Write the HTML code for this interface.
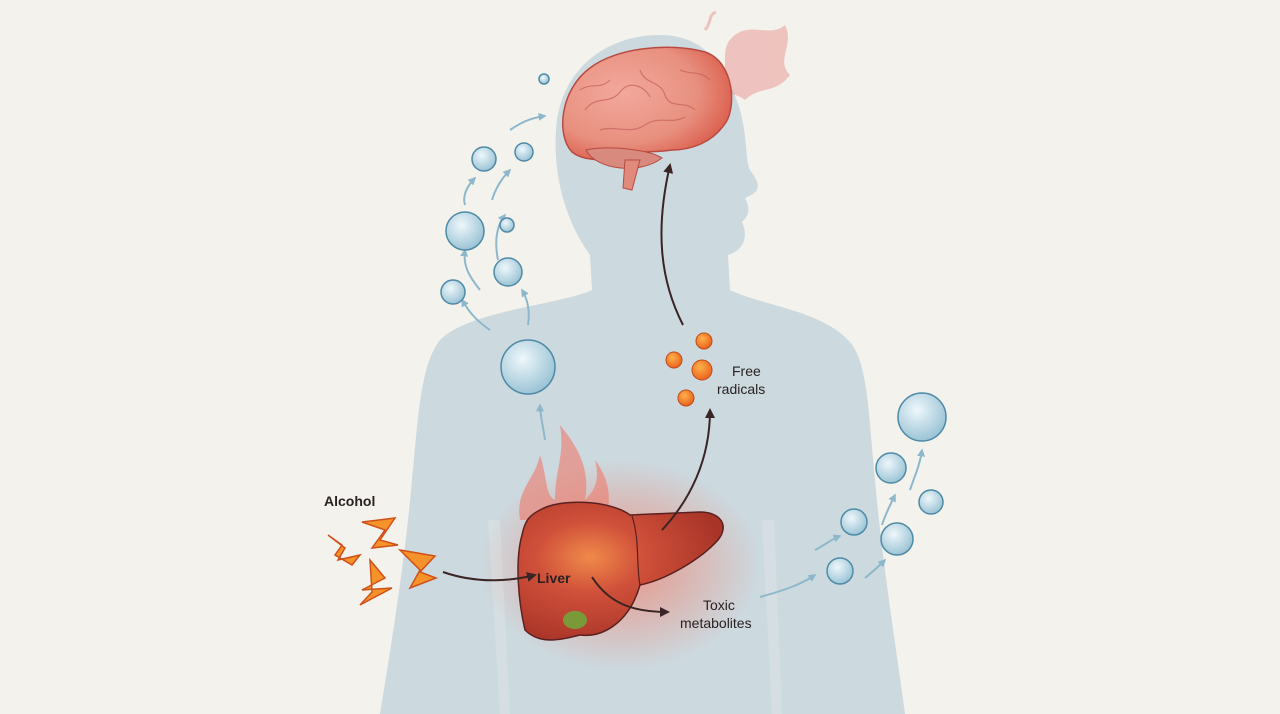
<!DOCTYPE html>
<html><head><style>
html,body{margin:0;padding:0;background:#f3f2ec;}
svg{display:block}
text{font-family:"Liberation Sans",sans-serif;fill:#2a2222}
</style></head><body>
<svg width="1280" height="714" viewBox="0 0 1280 714" xmlns="http://www.w3.org/2000/svg">
<defs>
<radialGradient id="glow" cx="50%" cy="50%" r="50%"><stop offset="0" stop-color="#ff5a3c" stop-opacity=".55"/><stop offset="1" stop-color="#ff5a3c" stop-opacity="0"/></radialGradient>
<radialGradient id="liv" cx="35%" cy="40%" r="65%"><stop offset="0" stop-color="#f08a4a"/><stop offset=".4" stop-color="#d0503a"/><stop offset="1" stop-color="#a83428"/></radialGradient>
<radialGradient id="bub" cx="40%" cy="35%" r="65%"><stop offset="0" stop-color="#eef7fb"/><stop offset="1" stop-color="#9cc4d6"/></radialGradient>
<radialGradient id="rad" cx="40%" cy="35%" r="65%"><stop offset="0" stop-color="#ffb04a"/><stop offset="1" stop-color="#e8651e"/></radialGradient>
<radialGradient id="brn" cx="35%" cy="40%" r="75%"><stop offset="0" stop-color="#f2a89c"/><stop offset=".6" stop-color="#e8907f"/><stop offset="1" stop-color="#d8503f"/></radialGradient>
<marker id="ah" viewBox="0 0 10 10" refX="8" refY="5" markerWidth="5" markerHeight="5" orient="auto"><path d="M0 0L10 5L0 10z" fill="#3a2424"/></marker>
<marker id="bh" viewBox="0 0 10 10" refX="8" refY="5" markerWidth="4" markerHeight="4" orient="auto"><path d="M0 0L10 5L0 10z" fill="#8db8cc"/></marker>
</defs>
<path fill="#ccd9df" d="M660 35C605 35 560 70 556 130C553 175 565 220 590 255L592 290C560 305 470 310 440 340C420 365 418 420 412 480C405 560 392 640 380 714L905 714C895 640 882 560 875 480C868 410 868 360 848 340C820 310 760 305 730 290L728 255C745 250 748 235 742 222C752 212 748 205 745 198C760 192 762 186 750 170C745 160 748 140 740 110C725 60 700 35 660 35Z"/>
<path fill="#d5dfe3" d="M488 520L500 714L510 714L500 520Z M762 520L772 714L782 714L774 520Z"/>
<g fill="#e88a88" opacity=".45">
<path d="M715 85C735 70 715 50 735 35C752 22 770 38 785 25C795 45 775 60 790 75C775 95 760 85 745 100C735 92 725 95 715 85Z"/>
<path d="M705 30C712 22 708 15 716 12" stroke="#e88a88" stroke-width="3" fill="none"/>
</g>
<path d="M572 152C556 135 560 90 590 68C615 48 670 42 705 52C735 62 737 110 724 125C712 142 692 150 672 150C655 153 640 150 620 156C600 162 582 160 572 152Z" fill="url(#brn)" stroke="#b84a42" stroke-width="1.5"/>
<path d="M586 150C596 170 640 175 662 158C650 150 610 145 586 150Z" fill="#d98a7e" stroke="#b84a42"/>
<path d="M625 160L623 188L632 190L640 160Z" fill="#e08a7c" stroke="#b84a42"/>
<g stroke="#c56058" fill="none" stroke-width="1.2" opacity=".7"><path d="M585 110c10-15 25-5 35-18s25-5 30 5"/><path d="M600 130c15-5 30 5 45-5s25 0 40-8"/><path d="M640 70c5 15 20 10 25 25s20 5 30 15"/><path d="M580 90c12-8 20 0 30-10"/><path d="M680 70c10 5 20 0 30 10"/></g>
<path d="M683 325C660 280 655 230 670 165" stroke="#3a2424" stroke-width="2" fill="none" marker-end="url(#ah)"/>
<g stroke="#8db8cc" stroke-width="2" fill="none" marker-end="url(#bh)">
<path d="M490 330C475 320 468 310 462 300"/><path d="M528 325C530 312 528 300 522 290"/><path d="M480 290C468 275 463 265 465 250"/><path d="M498 260C495 245 495 228 505 215"/><path d="M465 205C462 195 468 185 475 178"/><path d="M492 200C495 190 500 180 510 170"/><path d="M510 130C520 123 530 118 545 116"/><path d="M545 440C543 425 540 415 540 405"/>
<path d="M760 597C785 590 800 585 815 575"/><path d="M815 550C825 545 830 540 840 536"/><path d="M865 578C875 570 880 565 885 560"/><path d="M882 525C885 515 890 505 895 495"/><path d="M910 490C915 475 920 465 922 450"/></g>
<g fill="url(#bub)" stroke="#4e8aa6" stroke-width="1.5">
<circle cx="528" cy="367" r="27"/><circle cx="453" cy="292" r="12"/><circle cx="508" cy="272" r="14"/><circle cx="465" cy="231" r="19"/><circle cx="507" cy="225" r="7"/><circle cx="484" cy="159" r="12"/><circle cx="524" cy="152" r="9"/><circle cx="544" cy="79" r="5"/>
<circle cx="922" cy="417" r="24"/><circle cx="891" cy="468" r="15"/><circle cx="931" cy="502" r="12"/><circle cx="854" cy="522" r="13"/><circle cx="897" cy="539" r="16"/><circle cx="840" cy="571" r="13"/></g>
<ellipse cx="620" cy="565" rx="140" ry="105" fill="url(#glow)"/>
<path d="M520 520C515 490 535 480 540 455C548 480 545 495 555 500C555 470 565 455 560 425C580 450 590 470 585 500C595 490 600 480 595 460C610 480 612 500 605 520Z" fill="#ec7a6a" opacity=".6"/>
<path d="M540 510C560 498 610 500 630 515L700 512C720 512 730 525 718 540C700 560 665 580 640 585C630 620 605 638 580 635C560 640 540 645 525 630C518 600 515 560 522 535C525 520 530 515 540 510Z" fill="url(#liv)" stroke="#5a2020" stroke-width="1.5"/>
<path d="M632 516C640 540 636 565 640 585" stroke="#5a2020" fill="none" stroke-width="1.2"/>
<ellipse cx="575" cy="620" rx="12" ry="9" fill="#7a9a3a"/>
<g fill="url(#rad)" stroke="#c24a1a" stroke-width="1"><circle cx="704" cy="341" r="8"/><circle cx="674" cy="360" r="8"/><circle cx="702" cy="370" r="10"/><circle cx="686" cy="398" r="8"/></g>
<path d="M662 530C690 500 710 460 710 410" stroke="#3a2424" stroke-width="2" fill="none" marker-end="url(#ah)"/>
<path d="M443 572C480 585 515 580 535 575" stroke="#3a2424" stroke-width="2" fill="none" marker-end="url(#ah)"/>
<path d="M592 577C610 605 635 612 668 612" stroke="#3a2424" stroke-width="2" fill="none" marker-end="url(#ah)"/>
<g fill="#f5922a" stroke="#d0501a" stroke-width="1.5">
<path d="M362 522L395 518L380 540L398 545L372 548L385 530Z"/>
<path d="M328 535L345 548L338 560L360 555L352 565L335 555L342 545Z"/>
<path d="M400 550L435 556L420 572L436 578L410 588L420 570Z"/>
<path d="M370 560L385 578L362 590L392 588L360 605L372 592Z"/></g>
<text x="324" y="506" font-size="14" font-weight="bold">Alcohol</text>
<text x="537" y="583" font-size="14" font-weight="bold">Liver</text>
<text x="732" y="376" font-size="14">Free</text>
<text x="717" y="394" font-size="14">radicals</text>
<text x="703" y="610" font-size="14">Toxic</text>
<text x="680" y="628" font-size="14">metabolites</text>
</svg>
</body></html>
